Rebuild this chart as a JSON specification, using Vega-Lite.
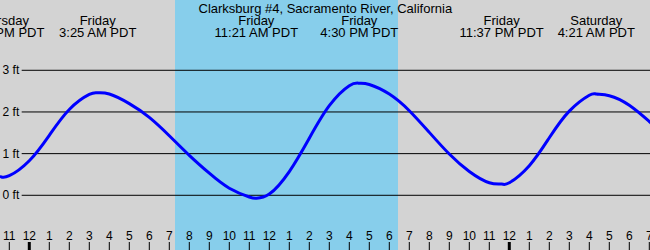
{
  "$schema": "https://vega.github.io/schema/vega-lite/v6.json",
  "width": 650,
  "height": 250,
  "padding": 0,
  "autosize": {"type": "none"},
  "background": "#d3d3d3",
  "config": {"view": {"stroke": null, "fill": "#d3d3d3"}, "text": {"font": "Liberation Sans", "color": "#000000"}},
  "datasets": {
    "daylight": [{"start": 7.285, "end": 18.435}],
    "grid": [{"ft": 0, "label": "0 ft"}, {"ft": 1, "label": "1 ft"}, {"ft": 2, "label": "2 ft"}, {"ft": 3, "label": "3 ft"}],
    "tide": [
      {"h": -1.465, "ft": 0.45},
      {"h": -1.4, "ft": 0.44},
      {"h": -1, "ft": 0.47},
      {"h": 0, "ft": 0.83},
      {"h": 1, "ft": 1.44},
      {"h": 2, "ft": 2.06},
      {"h": 3, "ft": 2.42},
      {"h": 3.42, "ft": 2.46},
      {"h": 4, "ft": 2.43},
      {"h": 5, "ft": 2.2},
      {"h": 6, "ft": 1.87},
      {"h": 7, "ft": 1.43},
      {"h": 8, "ft": 0.96},
      {"h": 9, "ft": 0.53},
      {"h": 10, "ft": 0.17},
      {"h": 11, "ft": -0.04},
      {"h": 11.35, "ft": -0.07},
      {"h": 12, "ft": 0.03},
      {"h": 13, "ft": 0.57},
      {"h": 14, "ft": 1.37},
      {"h": 15, "ft": 2.15},
      {"h": 16, "ft": 2.63},
      {"h": 16.5, "ft": 2.69},
      {"h": 17, "ft": 2.66},
      {"h": 18, "ft": 2.43},
      {"h": 19, "ft": 2.03},
      {"h": 20, "ft": 1.51},
      {"h": 21, "ft": 0.99},
      {"h": 22, "ft": 0.57},
      {"h": 23, "ft": 0.3},
      {"h": 23.62, "ft": 0.27},
      {"h": 24, "ft": 0.3},
      {"h": 25, "ft": 0.71},
      {"h": 26, "ft": 1.38},
      {"h": 27, "ft": 2.02},
      {"h": 28, "ft": 2.4},
      {"h": 28.35, "ft": 2.43},
      {"h": 29, "ft": 2.39},
      {"h": 30, "ft": 2.16},
      {"h": 31, "ft": 1.77},
      {"h": 31.1, "ft": 1.73}
    ],
    "hours": [
      {"h": -1, "label": "11"}, {"h": 0, "label": "12"}, {"h": 1, "label": "1"}, {"h": 2, "label": "2"},
      {"h": 3, "label": "3"}, {"h": 4, "label": "4"}, {"h": 5, "label": "5"}, {"h": 6, "label": "6"},
      {"h": 7, "label": "7"}, {"h": 8, "label": "8"}, {"h": 9, "label": "9"}, {"h": 10, "label": "10"},
      {"h": 11, "label": "11"}, {"h": 12, "label": "12"}, {"h": 13, "label": "1"}, {"h": 14, "label": "2"},
      {"h": 15, "label": "3"}, {"h": 16, "label": "4"}, {"h": 17, "label": "5"}, {"h": 18, "label": "6"},
      {"h": 19, "label": "7"}, {"h": 20, "label": "8"}, {"h": 21, "label": "9"}, {"h": 22, "label": "10"},
      {"h": 23, "label": "11"}, {"h": 24, "label": "12"}, {"h": 25, "label": "1"}, {"h": 26, "label": "2"},
      {"h": 27, "label": "3"}, {"h": 28, "label": "4"}, {"h": 29, "label": "5"}, {"h": 30, "label": "6"},
      {"h": 31, "label": "7"}
    ],
    "extremes": [
      {"h": -1.375, "day": "Thursday", "time": "10:38 PM PDT"},
      {"h": 3.42, "day": "Friday", "time": "3:25 AM PDT"},
      {"h": 11.35, "day": "Friday", "time": "11:21 AM PDT"},
      {"h": 16.5, "day": "Friday", "time": "4:30 PM PDT"},
      {"h": 23.617, "day": "Friday", "time": "11:37 PM PDT"},
      {"h": 28.35, "day": "Saturday", "time": "4:21 AM PDT"}
    ],
    "title": [{"h": 14.8, "text": "Clarksburg #4, Sacramento River, California"}]
  },
  "layer": [
    {
      "data": {"name": "daylight"},
      "mark": {"type": "rect", "color": "#87ceeb"},
      "encoding": {
        "x": {"field": "start", "type": "quantitative", "scale": {"domain": [-1.465, 31.035], "nice": false, "zero": false}, "axis": null},
        "x2": {"field": "end"}
      }
    },
    {
      "data": {"name": "grid"},
      "mark": {"type": "rule", "color": "#000000", "strokeWidth": 1},
      "encoding": {
        "y": {"field": "ft", "type": "quantitative", "scale": {"domain": [-1.313, 4.687], "nice": false, "zero": false}, "axis": null},
        "x": {"datum": -0.38, "type": "quantitative", "scale": {"domain": [-1.465, 31.035], "nice": false, "zero": false}, "axis": null},
        "x2": {"datum": 31.1}
      }
    },
    {
      "data": {"name": "grid"},
      "mark": {"type": "text", "fontSize": 12, "align": "right", "baseline": "middle"},
      "encoding": {
        "y": {"field": "ft", "type": "quantitative", "scale": {"domain": [-1.313, 4.687], "nice": false, "zero": false}, "axis": null},
        "x": {"datum": -0.5, "type": "quantitative", "scale": {"domain": [-1.465, 31.035], "nice": false, "zero": false}, "axis": null},
        "text": {"field": "label"}
      }
    },
    {
      "data": {"name": "tide"},
      "mark": {"type": "line", "color": "#0000ff", "strokeWidth": 3, "interpolate": "natural", "clip": true},
      "encoding": {
        "x": {"field": "h", "type": "quantitative", "scale": {"domain": [-1.465, 31.035], "nice": false, "zero": false}, "axis": null},
        "y": {"field": "ft", "type": "quantitative", "scale": {"domain": [-1.313, 4.687], "nice": false, "zero": false}, "axis": null}
      }
    },
    {
      "data": {"name": "hours"},
      "mark": {"type": "text", "fontSize": 12, "align": "center", "baseline": "middle"},
      "encoding": {
        "x": {"field": "h", "type": "quantitative", "scale": {"domain": [-1.465, 31.035], "nice": false, "zero": false}, "axis": null},
        "y": {"datum": -0.977, "type": "quantitative", "scale": {"domain": [-1.313, 4.687], "nice": false, "zero": false}, "axis": null},
        "text": {"field": "label"}
      }
    },
    {
      "data": {"name": "hours"},
      "mark": {"type": "rule", "color": "#000000"},
      "encoding": {
        "x": {"field": "h", "type": "quantitative", "scale": {"domain": [-1.465, 31.035], "nice": false, "zero": false}, "axis": null},
        "y": {"datum": -1.121, "type": "quantitative", "scale": {"domain": [-1.313, 4.687], "nice": false, "zero": false}, "axis": null},
        "y2": {"datum": -1.313},
        "strokeWidth": {"condition": {"test": "datum.h % 24 == 0", "value": 3}, "value": 1}
      }
    },
    {
      "data": {"name": "extremes"},
      "mark": {"type": "text", "fontSize": 13, "align": "center", "baseline": "middle"},
      "encoding": {
        "x": {"field": "h", "type": "quantitative", "scale": {"domain": [-1.465, 31.035], "nice": false, "zero": false}, "axis": null},
        "y": {"datum": 4.18, "type": "quantitative", "scale": {"domain": [-1.313, 4.687], "nice": false, "zero": false}, "axis": null},
        "text": {"field": "day"}
      }
    },
    {
      "data": {"name": "extremes"},
      "mark": {"type": "text", "fontSize": 13, "align": "center", "baseline": "middle"},
      "encoding": {
        "x": {"field": "h", "type": "quantitative", "scale": {"domain": [-1.465, 31.035], "nice": false, "zero": false}, "axis": null},
        "y": {"datum": 3.9, "type": "quantitative", "scale": {"domain": [-1.313, 4.687], "nice": false, "zero": false}, "axis": null},
        "text": {"field": "time"}
      }
    },
    {
      "data": {"name": "title"},
      "mark": {"type": "text", "fontSize": 13, "align": "center", "baseline": "middle"},
      "encoding": {
        "x": {"field": "h", "type": "quantitative", "scale": {"domain": [-1.465, 31.035], "nice": false, "zero": false}, "axis": null},
        "y": {"datum": 4.47, "type": "quantitative", "scale": {"domain": [-1.313, 4.687], "nice": false, "zero": false}, "axis": null},
        "text": {"field": "text"}
      }
    }
  ]
}
